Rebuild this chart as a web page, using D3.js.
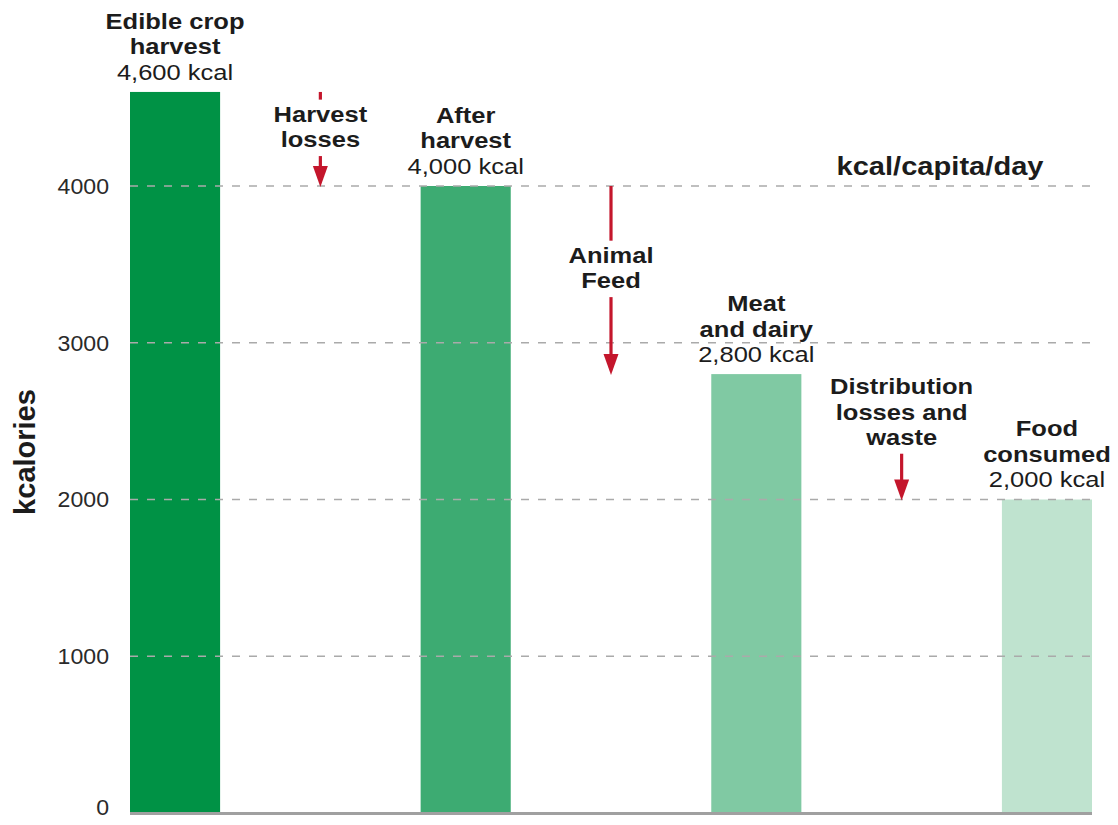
<!DOCTYPE html>
<html>
<head>
<meta charset="utf-8">
<script src="https://cdn.jsdelivr.net/npm/d3@7"></script>
<style>
  html, body { margin: 0; padding: 0; background: #fff; }
  svg { display: block; font-family: "Liberation Sans", Arial, Helvetica, sans-serif; }
</style>
</head>
<body>
<svg id="chart" width="1118" height="825"></svg>
<script>
// ---- data ----
const categories = ["Edible crop harvest", "After harvest", "Meat and dairy", "Food consumed"];
const values = [4600, 4000, 2800, 2000];
const titleLines = [["Edible crop", "harvest"], ["After", "harvest"], ["Meat", "and dairy"], ["Food", "consumed"]];
const valueLabels = ["4,600 kcal", "4,000 kcal", "2,800 kcal", "2,000 kcal"];
const lossLabels = [["Harvest", "losses"], ["Animal", "Feed"], ["Distribution", "losses and", "waste"]];
const yTicks = [0, 1000, 2000, 3000, 4000];
const unitLabel = "kcal/capita/day";
const yAxisTitle = "kcalories";

// ---- styles ----
const barColors = ["#009245", "#3dab72", "#80c9a3", "#bfe3cf"];
const arrowColor = "#c4162c";
const textColor = "#1c1c1c";
const lossTextOffset = [30, 77, 20]; // first baseline below arrow start
const sx = 1.16; // horizontal stretch of annotation text

const svg = d3.select("#chart");

const x = d3.scaleBand().domain(categories).range([130, 1092]).paddingInner(0.69).paddingOuter(0);
const y = d3.scaleLinear().domain([0, 4000]).range([813, 186]);

// bars
svg.append("g").selectAll("rect").data(categories).join("rect")
  .attr("x", d => x(d))
  .attr("width", x.bandwidth())
  .attr("y", (d, i) => y(values[i]))
  .attr("height", (d, i) => y(0) - y(values[i]))
  .attr("fill", (d, i) => barColors[i]);

// gridlines (dashed, over bars)
svg.append("g").selectAll("line").data(yTicks.filter(t => t > 0)).join("line")
  .attr("x1", 130).attr("x2", 1092)
  .attr("y1", d => y(d)).attr("y2", d => y(d))
  .attr("stroke", "#aaaaaa").attr("stroke-width", 1.6)
  .attr("stroke-dasharray", "8,9");

// baseline
svg.append("line").attr("x1", 130).attr("x2", 1092).attr("y1", y(0) + 0.5).attr("y2", y(0) + 0.5)
  .attr("stroke", "#a0a0a0").attr("stroke-width", 3);

// y tick labels
svg.append("g").selectAll("text").data(yTicks).join("text")
  .attr("x", 109).attr("y", d => Math.min(y(d), 807))
  .attr("dy", "0.36em")
  .attr("text-anchor", "end")
  .attr("font-size", 22)
  .attr("fill", "#2a2a2a")
  .attr("transform", "translate(109,0) scale(1.05,1) translate(-109,0)")
  .text(d => d);

// y axis title
svg.append("text")
  .attr("transform", `translate(35,452) rotate(-90)`)
  .attr("text-anchor", "middle")
  .attr("font-size", 29).attr("font-weight", "bold")
  .attr("fill", textColor)
  .text(yAxisTitle);

// unit label
svg.append("text")
  .attr("transform", `translate(940,175) scale(1.12,1)`)
  .attr("text-anchor", "middle")
  .attr("font-size", 26).attr("font-weight", "bold")
  .attr("fill", textColor)
  .text(unitLabel);

// bar labels
const lh = 25.5;
categories.forEach((c, i) => {
  const cx = x(c) + x.bandwidth() / 2;
  const last = y(values[i]) - 12;
  const g = svg.append("g").attr("transform", `translate(${cx},0) scale(${sx},1)`);
  titleLines[i].forEach((t, j) => {
    g.append("text").attr("x", 0).attr("y", last - (titleLines[i].length - j) * lh)
      .attr("text-anchor", "middle").attr("font-size", 22).attr("font-weight", "bold")
      .attr("fill", textColor).text(t);
  });
  g.append("text").attr("x", 0).attr("y", last)
    .attr("text-anchor", "middle").attr("font-size", 22)
    .attr("fill", textColor).text(valueLabels[i]);
});

// loss arrows
lossLabels.forEach((lines, i) => {
  const ax = (x(categories[i]) + x.bandwidth() + x(categories[i + 1])) / 2;
  const y0 = y(values[i]), y1 = y(values[i + 1]);
  const g = svg.append("g");
  g.append("line").attr("x1", ax).attr("x2", ax).attr("y1", y0).attr("y2", y1 - 18)
    .attr("stroke", arrowColor).attr("stroke-width", 3.2);
  g.append("path")
    .attr("d", `M${ax - 7.5},${y1 - 20} L${ax + 7.5},${y1 - 20} L${ax},${y1 + 1} Z`)
    .attr("fill", arrowColor);
  const mask = g.append("rect").attr("fill", "#fff");
  const tg = g.append("g").attr("transform", `translate(${ax},0) scale(${sx},1)`);
  lines.forEach((t, j) => {
    tg.append("text").attr("x", 0).attr("y", y0 + lossTextOffset[i] + j * lh)
      .attr("text-anchor", "middle").attr("font-size", 22).attr("font-weight", "bold")
      .attr("fill", textColor).text(t);
  });
  const bb = tg.node().getBBox();
  mask.attr("x", ax - 12).attr("width", 24)
    .attr("y", bb.y - 2).attr("height", bb.height + 6);
});
</script>
</body>
</html>
